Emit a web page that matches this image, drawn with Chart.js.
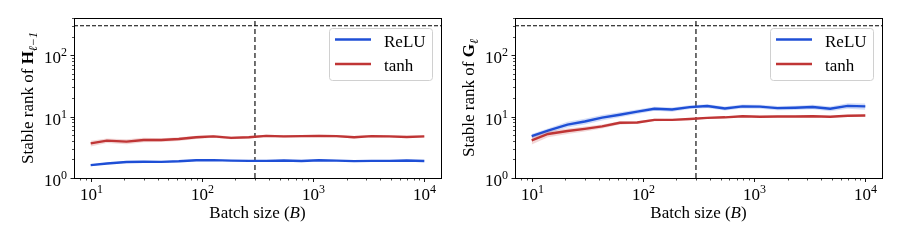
<!DOCTYPE html>
<html>
<head>
<meta charset="utf-8">
<script src="https://cdn.jsdelivr.net/npm/chart.js@4.4.1/dist/chart.umd.min.js"></script>
<style>
  html, body { margin: 0; padding: 0; background: #fff; }
  #wrap { position: relative; width: 900px; height: 246px; }
  .panel { position: absolute; top: 0; width: 450px; height: 246px; }
</style>
</head>
<body>
<div id="wrap">
  <div class="panel" style="left:0"><canvas id="chartH" width="450" height="246"></canvas></div>
  <div class="panel" style="left:450px"><canvas id="chartG" width="450" height="246"></canvas></div>
</div>
<script>
// batch sizes (log-spaced, 10 .. 10^4)
const batchSizes = [10, 14, 21, 30, 43, 62, 89, 127, 183, 264, 379, 546, 785, 1129, 1624, 2336, 3360, 4833, 6952, 10000];

// stable rank of H_{l-1} (left panel)
const reluH    = [1.62, 1.72, 1.82, 1.84, 1.83, 1.87, 1.94, 1.95, 1.92, 1.90, 1.90, 1.93, 1.89, 1.94, 1.92, 1.88, 1.90, 1.90, 1.93, 1.89];
const reluHStd = [0.05, 0.05, 0.05, 0.05, 0.05, 0.05, 0.05, 0.05, 0.05, 0.05, 0.05, 0.05, 0.05, 0.05, 0.05, 0.05, 0.05, 0.05, 0.05, 0.05];
const tanhH    = [3.65, 4.05, 3.90, 4.15, 4.15, 4.30, 4.60, 4.75, 4.50, 4.60, 4.85, 4.75, 4.80, 4.85, 4.80, 4.60, 4.80, 4.75, 4.65, 4.75];
const tanhHStd = [0.40, 0.35, 0.35, 0.35, 0.30, 0.30, 0.28, 0.25, 0.22, 0.22, 0.22, 0.22, 0.22, 0.22, 0.22, 0.20, 0.18, 0.18, 0.18, 0.18];

// stable rank of G_l (right panel)
const reluG    = [4.8, 5.9, 7.4, 8.3, 9.6, 10.7, 12.0, 13.4, 13.0, 14.2, 14.8, 13.5, 14.6, 14.5, 13.7, 13.9, 14.3, 13.4, 14.9, 14.6];
const reluGStd = [0.4, 0.5, 0.8, 0.9, 1.0, 1.0, 1.0, 1.0, 1.0, 1.0, 1.0, 1.0, 1.1, 1.1, 1.1, 1.1, 1.2, 1.2, 1.5, 1.7];
const tanhG    = [4.1, 5.2, 5.8, 6.3, 6.9, 7.9, 8.0, 8.8, 8.8, 9.1, 9.5, 9.7, 10.1, 9.9, 10.0, 10.0, 10.1, 9.9, 10.3, 10.4];
const tanhGStd = [0.6, 0.6, 0.6, 0.6, 0.5, 0.5, 0.4, 0.4, 0.3, 0.3, 0.3, 0.3, 0.3, 0.3, 0.3, 0.3, 0.3, 0.3, 0.3, 0.3];

const seriesNames = ['ReLU', 'tanh'];
const refBatch = 300;   // vertical dashed line
const refRank = 300;    // horizontal dashed line (max rank)

const xMin = Math.pow(10, 0.85);
const xMax = Math.pow(10, 4.15);
const yMin = 1;
const yMax = 400;

const BLUE = '#1f4fd6';
const RED = '#c03535';
const SERIF = '"Liberation Serif", "DejaVu Serif", serif';
const FS = 17;

const pts = (ys) => ys.map((y, i) => ({ x: batchSizes[i], y }));

function bandDatasets(mean, std, color) {
  return [
    {
      data: pts(mean.map((m, i) => m - std[i])),
      borderWidth: 0, pointRadius: 0, fill: false,
    },
    {
      data: pts(mean.map((m, i) => m + std[i])),
      borderWidth: 0, pointRadius: 0, fill: '-1',
      backgroundColor: color,
    },
  ];
}

function lineDataset(label, mean, color) {
  return {
    label,
    data: pts(mean),
    borderColor: color,
    borderWidth: 2.4,
    pointRadius: 0,
    fill: false,
    tension: 0,
  };
}

function refDatasets() {
  return [
    {
      data: [{ x: xMin, y: refRank }, { x: xMax, y: refRank }],
      borderColor: '#000', borderWidth: 1.1, borderDash: [4, 2],
      pointRadius: 0, fill: false,
    },
    {
      data: [{ x: refBatch, y: yMin }, { x: refBatch, y: yMax }],
      borderColor: '#333', borderWidth: 1.4, borderDash: [5, 3],
      pointRadius: 0, fill: false,
    },
  ];
}

// draw text runs (mixed fonts) starting at x, baseline y
function runsWidth(ctx, runs) {
  let w = 0;
  runs.forEach(r => { ctx.font = r.font; w += ctx.measureText(r.text).width; });
  return w;
}
function drawRuns(ctx, runs, x, y) {
  runs.forEach(r => {
    ctx.font = r.font;
    ctx.fillText(r.text, x, y + (r.dy || 0));
    x += ctx.measureText(r.text).width;
  });
}
const powRuns = (e) => [
  { text: '10', font: `${FS}px ${SERIF}` },
  { text: String(e), font: `12px ${SERIF}`, dy: -7 },
];

// matplotlib-like frame, ticks, labels and legend
const axesPlugin = {
  id: 'mplAxes',
  afterDraw(chart, args, opts) {
    const ctx = chart.ctx;
    const a = chart.chartArea;
    const xs = chart.scales.x;
    const ys = chart.scales.y;
    ctx.save();
    ctx.fillStyle = '#000';
    ctx.strokeStyle = '#000';
    ctx.textBaseline = 'alphabetic';
    ctx.textAlign = 'left';

    // frame
    ctx.lineWidth = 1;
    ctx.strokeRect(Math.round(a.left) + 0.5, Math.round(a.top) + 0.5,
      Math.round(a.right - a.left), Math.round(a.bottom - a.top));

    // x ticks
    for (let e = 0; e <= 4; e++) {
      for (let m = 1; m <= 9; m++) {
        const v = m * Math.pow(10, e);
        if (v < xMin || v > xMax) continue;
        const px = Math.round(xs.getPixelForValue(v)) + 0.5;
        ctx.lineWidth = m === 1 ? 0.9 : 0.7;
        ctx.beginPath();
        ctx.moveTo(px, a.bottom + 0.5);
        ctx.lineTo(px, a.bottom + (m === 1 ? 4 : 2.5));
        ctx.stroke();
        if (m === 1) {
          const runs = powRuns(e);
          const w = runsWidth(ctx, runs);
          drawRuns(ctx, runs, px - w / 2, a.bottom + 21.5);
        }
      }
    }
    // y ticks
    for (let e = 0; e <= 2; e++) {
      for (let m = 1; m <= 9; m++) {
        const v = m * Math.pow(10, e);
        if (v < yMin || v > yMax) continue;
        const py = Math.round(ys.getPixelForValue(v)) + 0.5;
        ctx.lineWidth = m === 1 ? 0.9 : 0.7;
        ctx.beginPath();
        ctx.moveTo(a.left + 0.5, py);
        ctx.lineTo(a.left - (m === 1 ? 3.5 : 2), py);
        ctx.stroke();
        if (m === 1) {
          const runs = powRuns(e);
          const w = runsWidth(ctx, runs);
          drawRuns(ctx, runs, a.left - 7 - w, py + 7);
        }
      }
    }

    // x title
    const xt = [
      { text: 'Batch size (', font: `${FS}px ${SERIF}` },
      { text: 'B', font: `italic ${FS}px ${SERIF}` },
      { text: ')', font: `${FS}px ${SERIF}` },
    ];
    const xtw = runsWidth(ctx, xt);
    drawRuns(ctx, xt, (a.left + a.right) / 2 - xtw / 2, a.bottom + 40);

    // y title (rotated)
    const yt = [
      { text: 'Stable rank of ', font: `${FS}px ${SERIF}` },
      { text: opts.matrix, font: `bold ${FS}px ${SERIF}` },
      { text: opts.sub, font: `italic 12px ${SERIF}`, dy: 4 },
    ];
    const ytw = runsWidth(ctx, yt);
    ctx.save();
    ctx.translate(a.left - 41, (a.top + a.bottom) / 2);
    ctx.rotate(-Math.PI / 2);
    drawRuns(ctx, yt, -ytw / 2, 0);
    ctx.restore();

    // legend (upper right)
    const bw = 103, bh = 52;
    const bx = a.right - 9 - bw, by = a.top + 10;
    ctx.beginPath();
    ctx.roundRect(bx + 0.5, by + 0.5, bw, bh, 3);
    ctx.fillStyle = 'rgba(255,255,255,0.8)';
    ctx.fill();
    ctx.strokeStyle = '#d0d0d0';
    ctx.lineWidth = 1;
    ctx.stroke();
    const entries = chart.data.datasets.filter(d => d.label);
    entries.forEach((d, i) => {
      const ly = by + 11.5 + i * 24.5;
      ctx.strokeStyle = d.borderColor;
      ctx.lineWidth = 2.4;
      ctx.beginPath();
      ctx.moveTo(bx + 6, ly);
      ctx.lineTo(bx + 42, ly);
      ctx.stroke();
      ctx.fillStyle = '#000';
      ctx.font = `${FS}px ${SERIF}`;
      ctx.fillText(d.label, bx + 55, ly + 7);
    });
    ctx.restore();
  },
};

function makeChart(id, reluMean, reluStd, tanhMean, tanhStd, padding, matrix, sub) {
  return new Chart(document.getElementById(id), {
    type: 'line',
    data: {
      datasets: [
        ...bandDatasets(reluMean, reluStd, 'rgba(31, 79, 214, 0.2)'),
        ...bandDatasets(tanhMean, tanhStd, 'rgba(192, 53, 53, 0.2)'),
        lineDataset(seriesNames[0], reluMean, BLUE),
        lineDataset(seriesNames[1], tanhMean, RED),
        ...refDatasets(),
      ],
    },
    options: {
      responsive: false,
      animation: false,
      devicePixelRatio: 1,
      layout: { padding },
      plugins: {
        legend: { display: false },
        tooltip: { enabled: false },
        mplAxes: { matrix, sub },
      },
      scales: {
        x: { type: 'logarithmic', min: xMin, max: xMax, display: false },
        y: { type: 'logarithmic', min: yMin, max: yMax, display: false },
      },
    },
    plugins: [axesPlugin],
  });
}

makeChart('chartH', reluH, reluHStd, tanhH, tanhHStd,
  { left: 74, right: 9, top: 18, bottom: 68 }, 'H', 'ℓ−1');
makeChart('chartG', reluG, reluGStd, tanhG, tanhGStd,
  { left: 65, right: 18, top: 18, bottom: 68 }, 'G', 'ℓ');
</script>
</body>
</html>
